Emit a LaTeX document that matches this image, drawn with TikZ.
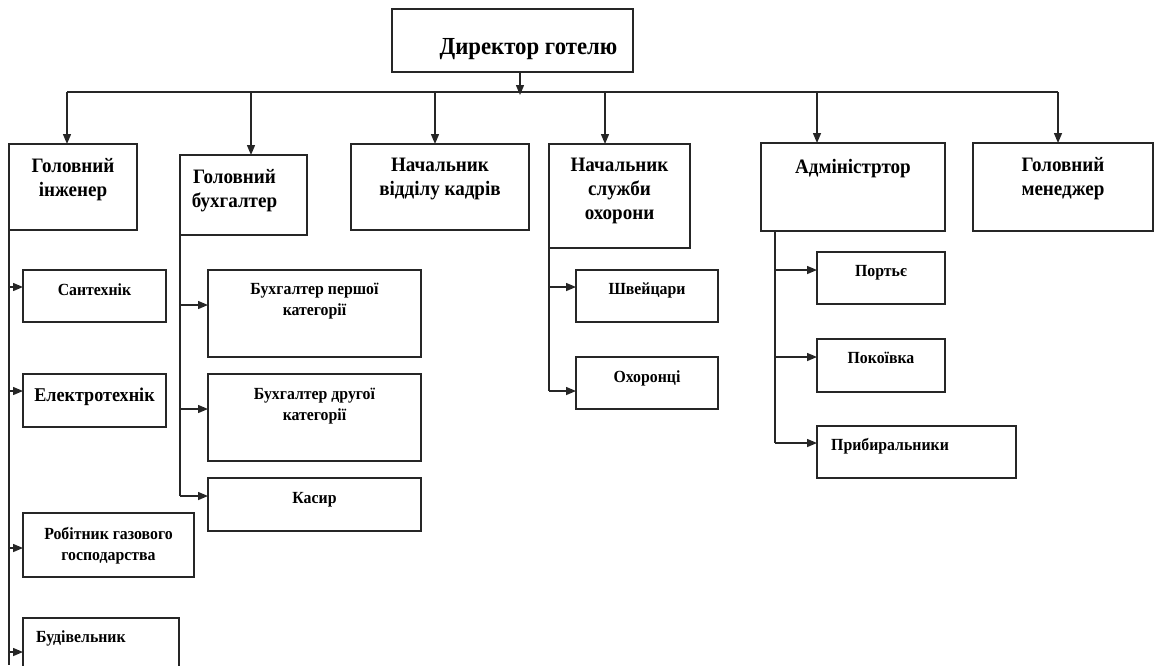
\documentclass[tikz,border=0pt]{standalone}
\usepackage{fontspec}
\setmainfont{Liberation Serif}[FakeStretch=0.93]
\usetikzlibrary{arrows.meta}

\begin{document}
\begin{tikzpicture}[
  x=1pt, y=-1pt,
  box/.style={draw=black!85, line width=1.4pt, inner sep=0pt, outer sep=0pt},
  head/.style={anchor=north, yshift=-14pt, align=center, inner sep=0pt, font=\fontsize{20.5}{24}\selectfont\bfseries},
  sub/.style={anchor=north, yshift=-13pt, align=center, inner sep=0pt, font=\fontsize{17}{21}\selectfont\bfseries},
  line/.style={draw=black!85, line width=1.4pt},
  arrow/.style={draw=black!85, -{Triangle[length=10pt, width=8pt]}, line width=1.4pt}
]
\useasboundingbox (0,0) rectangle (1156,665);
\clip (0,0) rectangle (1156,665);

% top level
\node[box, minimum width=241pt, minimum height=63pt,
  label={[anchor=north, xshift=16pt, yshift=-29pt, inner sep=0pt, font=\fontsize{24.5}{28}\selectfont\bfseries]north:Директор готелю}] (dir) at (512.5,40.5) {};

\node[box, minimum width=128pt, minimum height=86pt, label={[head]north:Головний\\інженер}] (eng) at (73,187) {};
\node[box, minimum width=127pt, minimum height=80pt, label={[head, xshift=-9pt]north:Головний\\бухгалтер}] (buh) at (243.5,195) {};
\node[box, minimum width=178pt, minimum height=86pt, label={[head]north:Начальник\\відділу кадрів}] (kadr) at (440,187) {};
\node[box, minimum width=141pt, minimum height=104pt, label={[head]north:Начальник\\служби\\охорони}] (ohor) at (619.5,196) {};
\node[box, minimum width=184pt, minimum height=88pt, label={[head, yshift=-2pt]north:Адміністртор}] (adm) at (853,187) {};
\node[box, minimum width=180pt, minimum height=88pt, label={[head]north:Головний\\менеджер}] (men) at (1063,187) {};

% bus
\coordinate (d0) at (520,95);
\coordinate (c1) at (67,92);
\coordinate (c2) at (251,92);
\coordinate (c3) at (435,92);
\coordinate (c4) at (605,92);
\coordinate (c5) at (817,92);
\coordinate (c6) at (1058,92);
\draw[arrow] (dir.south -| d0) -- (d0);
\draw[line] (c1) -- (c6);
\foreach \c/\n in {c1/eng, c2/buh, c3/kadr, c4/ohor, c5/adm, c6/men}
  \draw[arrow] (\c) -- (\c |- \n.north);

% engineer
\node[box, minimum width=143pt, minimum height=52pt, label={[sub]north:Сантехнік}] (san) at (94.5,296) {};
\node[box, minimum width=143pt, minimum height=53pt, label={[head, font=\fontsize{19.5}{24}\selectfont\bfseries]north:Електротехнік}] (elek) at (94.5,400.5) {};
\node[box, minimum width=171pt, minimum height=64pt, label={[sub, yshift=-1pt]north:Робітник газового\\господарства}] (gas) at (108.5,545) {};
\node[box, minimum width=156pt, minimum height=62pt, label={[sub, anchor=north west, xshift=13pt, yshift=1pt]north west:Будівельник}] (bud) at (101,649) {};
\draw[line] (eng.south west) -- (eng.south west |- 0,665);
\foreach \n/\y in {san/287, elek/391, gas/548, bud/652}
  \draw[arrow] (eng.south west |- 0,\y) -- (\n.west |- 0,\y);

% accountant
\node[box, minimum width=213pt, minimum height=87pt, label={[sub]north:Бухгалтер першої\\категорії}] (bp) at (314.5,313.5) {};
\node[box, minimum width=213pt, minimum height=87pt, label={[sub, yshift=-1pt]north:Бухгалтер другої\\категорії}] (bd) at (314.5,417.5) {};
\node[box, minimum width=213pt, minimum height=53pt, label={[sub, yshift=-1pt]north:Касир}] (kas) at (314.5,504.5) {};
\draw[line] (buh.south west) -- (buh.south west |- 0,496);
\foreach \n/\y in {bp/305, bd/409, kas/496}
  \draw[arrow] (buh.south west |- 0,\y) -- (\n.west |- 0,\y);

% security
\node[box, minimum width=142pt, minimum height=52pt, label={[sub]north:Швейцари}] (shv) at (647,296) {};
\node[box, minimum width=142pt, minimum height=52pt, label={[sub]north:Охоронці}] (ohr) at (647,383) {};
\draw[line] (ohor.south west) -- (ohor.south west |- 0,391);
\foreach \n/\y in {shv/287, ohr/391}
  \draw[arrow] (ohor.south west |- 0,\y) -- (\n.west |- 0,\y);

% administrator
\coordinate (a0) at (775,231);
\node[box, minimum width=128pt, minimum height=52pt, label={[sub]north:Портьє}] (por) at (881,278) {};
\node[box, minimum width=128pt, minimum height=53pt, label={[sub]north:Покоївка}] (pok) at (881,365.5) {};
\node[box, minimum width=199pt, minimum height=52pt, label={[sub, anchor=north west, xshift=14pt, yshift=1pt]north west:Прибиральники}] (prib) at (916.5,452) {};
\draw[line] (a0 |- adm.south) -- (a0 |- 0,443);
\foreach \n/\y in {por/270, pok/357, prib/443}
  \draw[arrow] (a0 |- 0,\y) -- (\n.west |- 0,\y);
\end{tikzpicture}
\end{document}
